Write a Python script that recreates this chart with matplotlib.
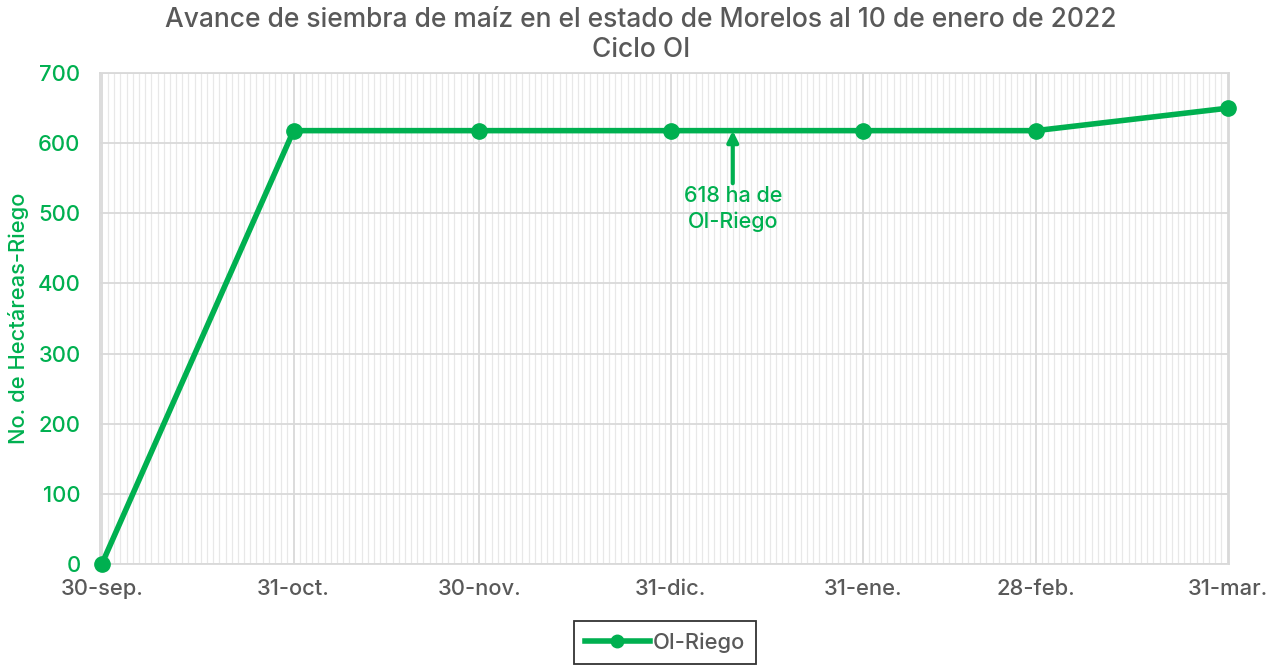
import matplotlib.pyplot as plt
import matplotlib.dates as mdates
import numpy as np
import pandas as pd

plt.rcParams['font.family'] = ['Inter', 'DejaVu Sans']

# Data
fechas = pd.to_datetime(['2021-09-30', '2021-10-31', '2021-11-30', '2021-12-31',
                         '2022-01-31', '2022-02-28', '2022-03-31'])
hectareas = [0, 618, 618, 618, 618, 618, 650]
etiquetas = ['30-sep.', '31-oct.', '30-nov.', '31-dic.', '31-ene.', '28-feb.', '31-mar.']
fecha_nota = pd.Timestamp('2022-01-10')
valor_nota = 618

verde = '#00B050'
gris = '#595959'

fig = plt.figure(figsize=(12.82, 6.65), dpi=100)
ax = fig.add_axes([0.078, 0.152, 0.881, 0.738])

ax.plot(fechas, hectareas, color=verde, lw=4, marker='o', ms=11, label='OI-Riego',
        zorder=3, clip_on=False)

ax.set_xlim(fechas[0] - pd.Timedelta(days=0.3), fechas[-1] + pd.Timedelta(days=0.3))
ax.set_ylim(0, 700)
ax.set_yticks(np.arange(0, 701, 100))
ax.set_xticks(fechas)
ax.set_xticklabels(etiquetas)
ax.xaxis.set_minor_locator(mdates.DayLocator())

ax.grid(which='major', color='#d9d9d9', lw=1.3)
ax.grid(which='minor', axis='x', color='#e8e8e8', lw=0.9)
ax.set_axisbelow(True)
for s in ax.spines.values():
    s.set_color('#d9d9d9')
    s.set_linewidth(1.3)
ax.tick_params(which='both', length=0)
ax.tick_params(axis='y', labelcolor=verde, labelsize=15.8, pad=14)
ax.tick_params(axis='x', labelcolor=gris, labelsize=15.8, pad=11)
for lbl in ax.get_xticklabels() + ax.get_yticklabels():
    lbl.set_fontweight('medium')

ax.set_ylabel('No. de Hectáreas-Riego', color=verde, fontsize=15.8, fontweight='medium',
              labelpad=6)
fig.suptitle('Avance de siembra de maíz en el estado de Morelos al 10 de enero de 2022\nCiclo OI',
             color=gris, fontsize=19, fontweight='medium', y=0.99, linespacing=1.22)

ax.annotate('618 ha de\nOI-Riego', xy=(fecha_nota, valor_nota), xytext=(fecha_nota, 506),
            ha='center', va='center', color=verde, fontsize=15.5, fontweight='medium',
            linespacing=1.35,
            arrowprops=dict(arrowstyle='-|>', color=verde, lw=3, mutation_scale=16,
                            shrinkA=0, shrinkB=0))

leg = ax.legend(loc='upper center', bbox_to_anchor=(0.5, -0.117), frameon=True,
                prop={'size': 15.8, 'weight': 'medium'}, handlelength=3.0, borderpad=0.5,
                handletextpad=0.1, fancybox=False, borderaxespad=0)
leg.get_frame().set_edgecolor('black')
leg.get_frame().set_linewidth(1.3)
for t in leg.get_texts():
    t.set_color(gris)
leg.get_lines()[0].set_markersize(9)

fig.savefig('out.png', dpi=100)
